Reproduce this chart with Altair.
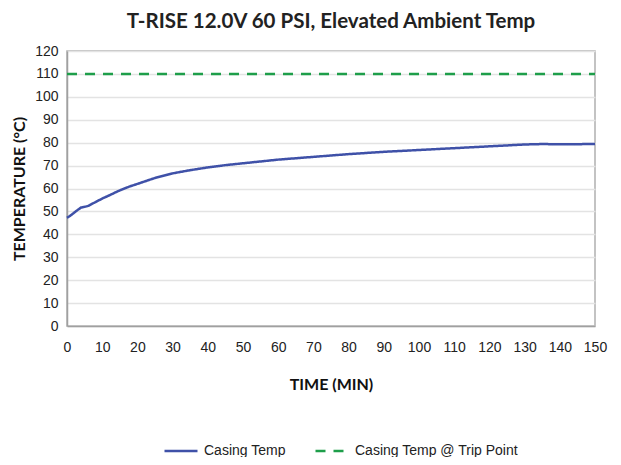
import altair as alt
import pandas as pd

time_min = [0, 1, 2, 3, 4, 5, 6, 8, 10, 12, 15, 18, 20, 25, 30, 35, 40, 45, 50, 60, 70, 80, 90, 100, 110, 120, 130, 135, 140, 150]
casing_temp = [47.2, 48.2, 49.4, 50.6, 51.7, 52.0, 52.4, 54.0, 55.6, 57.0, 59.2, 61.0, 62.0, 64.6, 66.6, 68.0, 69.2, 70.2, 71.0, 72.6, 73.8, 75.0, 76.0, 76.8, 77.6, 78.4, 79.2, 79.4, 79.3, 79.4]
trip_time = [0, 150]
trip_temp = [110, 110]

series_names = ["Casing Temp", "Casing Temp @ Trip Point"]

df = pd.concat([
    pd.DataFrame({"t": time_min, "v": casing_temp, "s": series_names[0]}),
    pd.DataFrame({"t": trip_time, "v": trip_temp, "s": series_names[1]}),
])

font = "Liberation Sans"

chart = alt.Chart(df).mark_line(strokeWidth=2.5).encode(
    x=alt.X("t:Q", scale=alt.Scale(domain=[0, 150], nice=False),
            axis=alt.Axis(title="TIME (MIN)", values=list(range(0, 151, 10)), grid=False,
                          ticks=False, labelPadding=14, titlePadding=22,
                          labelOverlap=False, labelFlush=False)),
    y=alt.Y("v:Q", scale=alt.Scale(domain=[0, 120], nice=False),
            axis=alt.Axis(title="TEMPERATURE (°C)", values=list(range(0, 121, 10)),
                          ticks=False, labelPadding=9, titleX=-40, labelOverlap=False)),
    color=alt.Color("s:N", scale=alt.Scale(domain=series_names, range=["#3F51A8", "#1E9E4A"]),
                    legend=alt.Legend(title=None, orient="none", legendX=96, legendY=382,
                                      direction="horizontal",
                                      symbolType="stroke", symbolSize=1089, symbolStrokeWidth=2.5,
                                      symbolDash=[10, 8], labelOffset=5,
                                      columnPadding=24, labelFontSize=14, labelFont=font,
                                      labelColor="#222", labelLimit=300)),
    strokeDash=alt.StrokeDash("s:N", scale=alt.Scale(domain=series_names, range=[[1, 0], [10, 8]]),
                              legend=None),
).properties(
    width=528, height=275,
    title=alt.TitleParams("T-RISE 12.0V 60 PSI, Elevated Ambient Temp", fontSize=20.5,
                          fontWeight="bold", font="Lato", color="#222", offset=12),
    autosize=alt.AutoSizeParams(type="none"),
    padding={"left": 59, "top": 43, "right": 18, "bottom": 131},
).configure_axis(
    labelFont=font, labelFontSize=14, labelColor="#222",
    titleFont="Lato", titleFontSize=16, titleFontWeight="bold", titleColor="#111",
    gridColor="#e3e3e3", gridWidth=1.5, domainColor="#a0a0a0", domainWidth=1.5,
).configure_view(stroke="#b0b0b0", strokeWidth=1.5)

chart.save("out.html", embed_options={"renderer": "svg", "actions": False})
